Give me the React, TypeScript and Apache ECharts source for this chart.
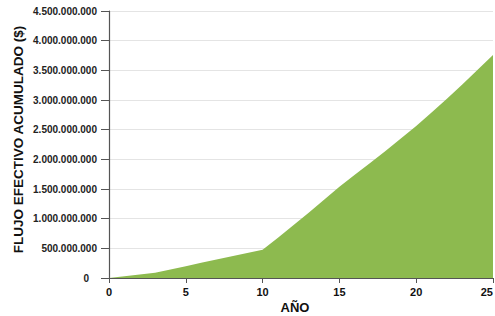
import React, { useEffect, useRef } from "react";
import * as echarts from "echarts";

const years: number[] = [0, 1, 2, 3, 4, 5, 6, 7, 8, 9, 10, 11, 12, 13, 14, 15, 16, 17, 18, 19, 20, 21, 22, 23, 24, 25];
const cumulativeFlow: number[] = [
  0, 30e6, 60e6, 90e6, 145e6, 200e6, 255e6, 310e6, 365e6, 420e6, 475e6,
  680e6, 890e6, 1100e6, 1320e6, 1540e6, 1740e6, 1940e6, 2140e6, 2350e6, 2560e6,
  2790e6, 3020e6, 3260e6, 3510e6, 3760e6,
];
const xAxisTitle = "AÑO";
const yAxisTitle = "FLUJO EFECTIVO ACUMULADO ($)";

function fmt(v: number): string {
  return Math.round(v).toString().replace(/\B(?=(\d{3})+(?!\d))/g, ".");
}

export default function App() {
  const ref = useRef<HTMLDivElement>(null);
  useEffect(() => {
    if (!ref.current) return;
    const chart = echarts.init(ref.current, undefined, { renderer: "svg" });
    const font = "'Liberation Sans', Arial, sans-serif";
    chart.setOption({
      animation: false,
      backgroundColor: "#ffffff",
      textStyle: { fontFamily: font },
      grid: { left: 109, right: 2, top: 11, bottom: 38, containLabel: false, outerBoundsMode: "none" },
      xAxis: {
        type: "value",
        min: 0,
        max: 25,
        interval: 5,
        name: xAxisTitle,
        nameLocation: "middle",
        nameGap: 23,
        nameMoveOverlap: false,
        nameTextStyle: { fontFamily: font, fontWeight: "bold", fontSize: 13, color: "#111", padding: [0, 12, 0, 0] },
        axisLine: { show: true, lineStyle: { color: "#555", width: 1.2 } },
        axisTick: { show: true, length: 5, lineStyle: { color: "#555" } },
        axisLabel: { fontFamily: font, fontWeight: "bold", fontSize: 11, color: "#111", margin: 8, alignMaxLabel: "right" },
        splitLine: { show: false },
      },
      yAxis: {
        type: "value",
        min: 0,
        max: 4500000000,
        interval: 500000000,
        name: yAxisTitle,
        nameLocation: "middle",
        nameGap: 84,
        nameRotate: 90,
        nameMoveOverlap: false,
        nameTextStyle: { fontFamily: font, fontWeight: "bold", fontSize: 13.5, color: "#111", padding: [0, 0, 0, 10] },
        axisLine: { show: true, lineStyle: { color: "#555", width: 1.2 } },
        axisTick: { show: true, length: 8, lineStyle: { color: "#555" } },
        axisLabel: {
          fontFamily: font,
          fontWeight: "bold",
          fontSize: 10,
          color: "#222",
          margin: 12,
          formatter: (v: number) => (v === 0 ? "{z|0}" : fmt(v)),
          rich: { z: { fontFamily: font, fontWeight: "bold", fontSize: 10, color: "#222", padding: [0, 8, 0, 0] } },
        },
        splitLine: { show: true, lineStyle: { color: "#e4e4e4", width: 1 } },
      },
      series: [
        {
          type: "line",
          data: years.map((y, i) => [y, cumulativeFlow[i]]),
          showSymbol: false,
          symbol: "none",
          lineStyle: { width: 0, color: "#8DBA4F" },
          itemStyle: { color: "#8DBA4F" },
          areaStyle: { color: "#8DBA4F", opacity: 1 },
        },
      ],
    });
    return () => chart.dispose();
  }, []);
  return <div ref={ref} style={{ width: 495, height: 316, position: "absolute", left: 0, top: 0 }} />;
}
